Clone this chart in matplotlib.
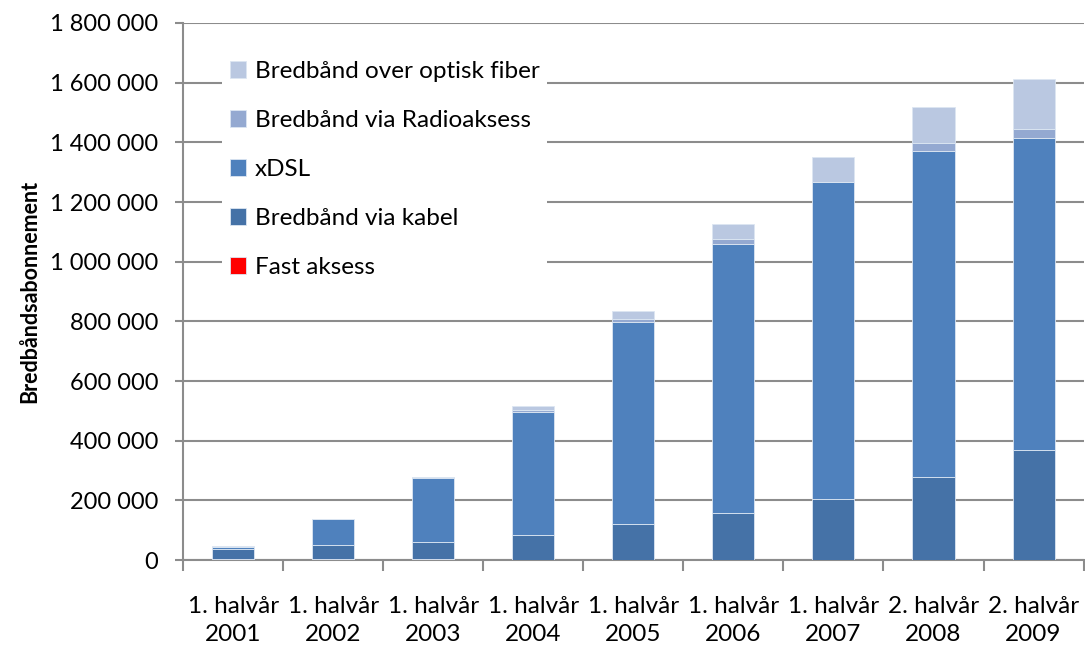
import matplotlib.pyplot as plt
import numpy as np
from matplotlib.ticker import FuncFormatter

plt.rcParams['font.family'] = ['Lato', 'DejaVu Sans']

# Data
categories = ['1. halvår\n2001', '1. halvår\n2002', '1. halvår\n2003',
              '1. halvår\n2004', '1. halvår\n2005', '1. halvår\n2006',
              '1. halvår\n2007', '2. halvår\n2008', '2. halvår\n2009']
fast_aksess = [5000, 5000, 3000, 1000, 1000, 500, 500, 500, 500]
kabel = [31000, 45000, 58000, 83000, 119000, 158000, 205000, 277000, 368000]
xdsl = [9000, 86000, 215000, 411000, 677000, 900000, 1060000, 1095000, 1045000]
radio = [0, 0, 1000, 8000, 11000, 18000, 3000, 26000, 32000]
fiber = [1000, 1000, 2000, 14000, 28000, 50000, 84000, 120000, 166000]

series = [
    ('Fast aksess', fast_aksess, '#FF0000'),
    ('Bredbånd via kabel', kabel, '#4572A7'),
    ('xDSL', xdsl, '#4F81BD'),
    ('Bredbånd via Radioaksess', radio, '#94A9D1'),
    ('Bredbånd over optisk fiber', fiber, '#BAC8E1'),
]

fig = plt.figure(figsize=(10.85, 6.46), dpi=100)
ax = fig.add_axes([0.1687, 0.1331, 0.830, 0.8313])

x = np.arange(len(categories))
bottom = np.zeros(len(categories))
handles = []
for label, vals, color in series:
    vals = np.array(vals, dtype=float)
    b = ax.bar(x, vals, width=0.42, bottom=bottom, color=color, label=label,
               edgecolor='#DCE6F2', linewidth=0.6, zorder=3)
    handles.append(b)
    bottom += vals

ax.set_xlim(-0.5, len(categories) - 0.5)
ax.set_ylim(0, 1800000)
ax.set_yticks(np.arange(0, 1800001, 200000))
ax.yaxis.set_major_formatter(FuncFormatter(lambda v, p: f'{int(v):,}'.replace(',', ' ')))
ax.yaxis.grid(True, color='#8C8C8C', linewidth=1.5, zorder=0)
ax.set_axisbelow(True)

# category ticks sit on the boundaries between bars
ax.set_xticks(np.arange(-0.5, len(categories) + 0.5, 1.0))
ax.set_xticklabels([])
ax.set_xticks(x, minor=True)
ax.set_xticklabels(categories, minor=True, fontsize=17.5, linespacing=1.4)
ax.tick_params(axis='x', which='major', length=8, width=1.5, color='#8C8C8C')
ax.tick_params(axis='x', which='minor', length=0, pad=26)
ax.tick_params(axis='y', length=6, width=1.5, color='#8C8C8C', labelsize=17, pad=12)

for s in ['top', 'right']:
    ax.spines[s].set_visible(False)
for s in ['left', 'bottom']:
    ax.spines[s].set_color('#8C8C8C')
    ax.spines[s].set_linewidth(1.5)

ax.set_ylabel('Bredbåndsabonnement', fontsize=15.5, fontweight='bold', labelpad=7)

leg = ax.legend(handles[::-1], [s[0] for s in series][::-1], loc='upper left',
                bbox_to_anchor=(0.03, 0.965), fontsize=17.5, frameon=True,
                facecolor='white', edgecolor='none', framealpha=1, fancybox=False,
                handlelength=0.68, handleheight=0.68, handletextpad=0.35,
                labelspacing=1.15, borderpad=0.3)
leg.set_zorder(5)

fig.savefig('out.png', dpi=100)
